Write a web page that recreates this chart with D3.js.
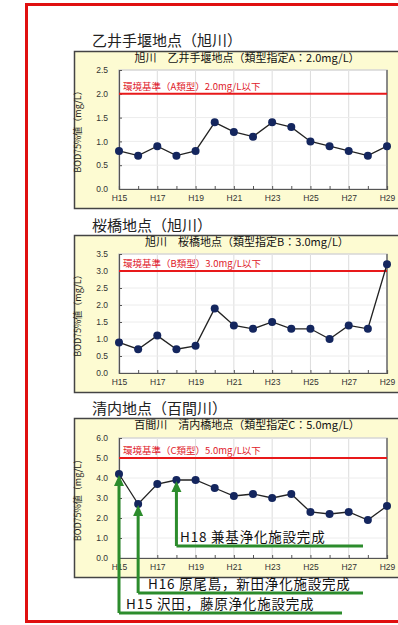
<!DOCTYPE html>
<html><head><meta charset="utf-8">
<script src="https://cdn.jsdelivr.net/npm/d3@7"></script>
<style>body{margin:0;background:#fff;}svg{display:block;font-family:"Noto Sans CJK JP","Noto Sans",sans-serif;}</style>
</head><body>
<svg id="c" width="398" height="625"></svg>
<script>
const years = ["H15","H16","H17","H18","H19","H20","H21","H22","H23","H24","H25","H26","H27","H28","H29"];
const xTickLabels = ["H15","H17","H19","H21","H23","H25","H27","H29"];
const otoiValues = [0.8,0.7,0.9,0.7,0.8,1.4,1.2,1.1,1.4,1.3,1.0,0.9,0.8,0.7,0.9];
const sakuraValues = [0.9,0.7,1.1,0.7,0.8,1.9,1.4,1.3,1.5,1.3,1.3,1.0,1.4,1.3,3.2];
const kiyouchiValues = [4.2,2.7,3.7,3.9,3.9,3.5,3.1,3.2,3.0,3.2,2.3,2.2,2.3,1.9,2.6];
const titles = ["乙井手堰地点（旭川）","桜橋地点（旭川）","清内地点（百間川）"];
const innerTitles = ["旭川　乙井手堰地点（類型指定A：2.0mg/L）","旭川　桜橋地点（類型指定B：3.0mg/L）","百間川　清内橋地点（類型指定C：5.0mg/L）"];
const standards = [2.0,3.0,5.0];
const standardLabels = ["環境基準（A類型）2.0mg/L以下","環境基準（B類型）3.0mg/L以下","環境基準（C類型）5.0mg/L以下"];
const yMaxes = [2.5,3.5,6.0];
const yTickValues = [[0,0.5,1.0,1.5,2.0,2.5],[0,0.5,1.0,1.5,2.0,2.5,3.0,3.5],[0,1,2,3,4,5,6]];
const yLabel = "BOD75%値（mg/L）";
const notes = ["H15 沢田，藤原浄化施設完成","H16 原尾島，新田浄化施設完成","H18 兼基浄化施設完成"];
const noteYears = ["H15","H16","H18"];

const svg = d3.select("#c");
svg.append("rect").attr("x",26.5).attr("y",4.5).attr("width",420).attr("height",617)
  .attr("fill","none").attr("stroke","#e01010").attr("stroke-width",3);

const layouts = [
  {titleY:46, panelTop:51, panelBot:208, plotTop:70, plotBot:189},
  {titleY:231, panelTop:235, panelBot:392, plotTop:254, plotBot:373},
  {titleY:414, panelTop:418, panelBot:577, plotTop:438, plotBot:558}
];
const allValues = [otoiValues, sakuraValues, kiyouchiValues];
const plotL = 119, plotR = 387;
const x = d3.scalePoint().domain(years).range([plotL, plotR]);
let scales = [];

layouts.forEach((L,i)=>{
  const g = svg.append("g");
  g.append("text").attr("x",92).attr("y",L.titleY).attr("font-size",15).attr("fill","#222").text(titles[i]);
  g.append("rect").attr("x",74.5).attr("y",L.panelTop+0.5).attr("width",340).attr("height",L.panelBot-L.panelTop)
    .attr("fill","#fdfbd2").attr("stroke","#444").attr("stroke-width",1.5);
  g.append("text").attr("x",247).attr("y",L.panelTop+11).attr("text-anchor","middle").attr("font-size",11).attr("fill","#111").text(innerTitles[i]);
  const y = d3.scaleLinear().domain([0,yMaxes[i]]).range([L.plotBot, L.plotTop]);
  scales.push(y);
  g.append("rect").attr("x",plotL).attr("y",L.plotTop).attr("width",plotR-plotL).attr("height",L.plotBot-L.plotTop)
    .attr("fill","#fff").attr("stroke","#aaa").attr("stroke-width",1);
  g.append("g").selectAll("line").data(xTickLabels).join("line")
    .attr("x1",d=>x(d)).attr("x2",d=>x(d)).attr("y1",L.plotTop).attr("y2",L.plotBot)
    .attr("stroke","#dcdcdc").attr("stroke-width",1);
  g.append("g").selectAll("line").data(yTickValues[i]).join("line")
    .attr("x1",plotL).attr("x2",plotR).attr("y1",d=>y(d)).attr("y2",d=>y(d))
    .attr("stroke","#ececec").attr("stroke-width",1);
  const ya = g.append("g").attr("transform",`translate(${plotL},0)`)
    .call(d3.axisLeft(y).tickValues(yTickValues[i]).tickFormat(d3.format(".1f")).tickSize(-3).tickPadding(11));
  ya.select(".domain").attr("stroke","#555").attr("stroke-width",1.2);
  ya.selectAll(".tick line").attr("stroke","#555");
  ya.selectAll("text").attr("font-size",8.5).attr("fill","#333").attr("font-family","'Liberation Sans',sans-serif");
  const xa = g.append("g").attr("transform",`translate(0,${L.plotBot})`)
    .call(d3.axisBottom(x).tickSize(-3).tickPadding(6).tickFormat(d=>xTickLabels.includes(d)?d:""));
  xa.select(".domain").attr("stroke","#555").attr("stroke-width",1.2);
  xa.selectAll(".tick line").attr("stroke","#555");
  xa.selectAll("text").attr("font-size",8.5).attr("fill","#333").attr("font-family","'Liberation Sans',sans-serif");
  g.append("line").attr("x1",plotR).attr("x2",plotR).attr("y1",L.plotTop).attr("y2",L.plotBot).attr("stroke","#555").attr("stroke-width",1.2);
  g.append("text").attr("transform",`translate(81,${(L.plotTop+L.plotBot)/2}) rotate(-90)`)
    .attr("text-anchor","middle").attr("font-size",9).attr("fill","#222").text(yLabel);
  g.append("line").attr("x1",plotL).attr("x2",plotR).attr("y1",y(standards[i])).attr("y2",y(standards[i]))
    .attr("stroke","#e8191a").attr("stroke-width",2);
  g.append("text").attr("x",123).attr("y",y(standards[i])-4).attr("font-size",9.5).attr("fill","#e0202a").text(standardLabels[i]);
  const vals = allValues[i];
  g.append("path").datum(vals).attr("fill","none").attr("stroke","#222").attr("stroke-width",1.3)
    .attr("d",d3.line().x((d,j)=>x(years[j])).y(d=>y(d)));
  g.append("g").selectAll("circle").data(vals).join("circle")
    .attr("cx",(d,j)=>x(years[j])).attr("cy",d=>y(d)).attr("r",4).attr("fill","#14265e");
});

const y3 = scales[2];
const green = "#2c8c2c";
const noteLayout = [
  {lineY:613, endX:342, textX:126, textY:609},
  {lineY:593, endX:363, textX:148, textY:589},
  {lineY:546, endX:363, textX:180, textY:542}
];
noteYears.forEach((yr,k)=>{
  const v = kiyouchiValues[years.indexOf(yr)];
  const px = x(yr), topY = y3(v)+1, NL = noteLayout[k];
  const a = svg.append("g");
  a.append("path").attr("d",`M${px},${NL.lineY} L${px},${topY+9} M${px},${NL.lineY} L${NL.endX},${NL.lineY}`)
    .attr("fill","none").attr("stroke",green).attr("stroke-width",3);
  a.append("path").attr("d",`M${px},${topY} L${px-5},${topY+11} L${px+5},${topY+11} Z`).attr("fill",green);
  a.append("text").attr("x",NL.textX).attr("y",NL.textY).attr("font-size",13.5).attr("letter-spacing",0.8).attr("fill","#111").text(notes[k]);
});
</script>
</body></html>
